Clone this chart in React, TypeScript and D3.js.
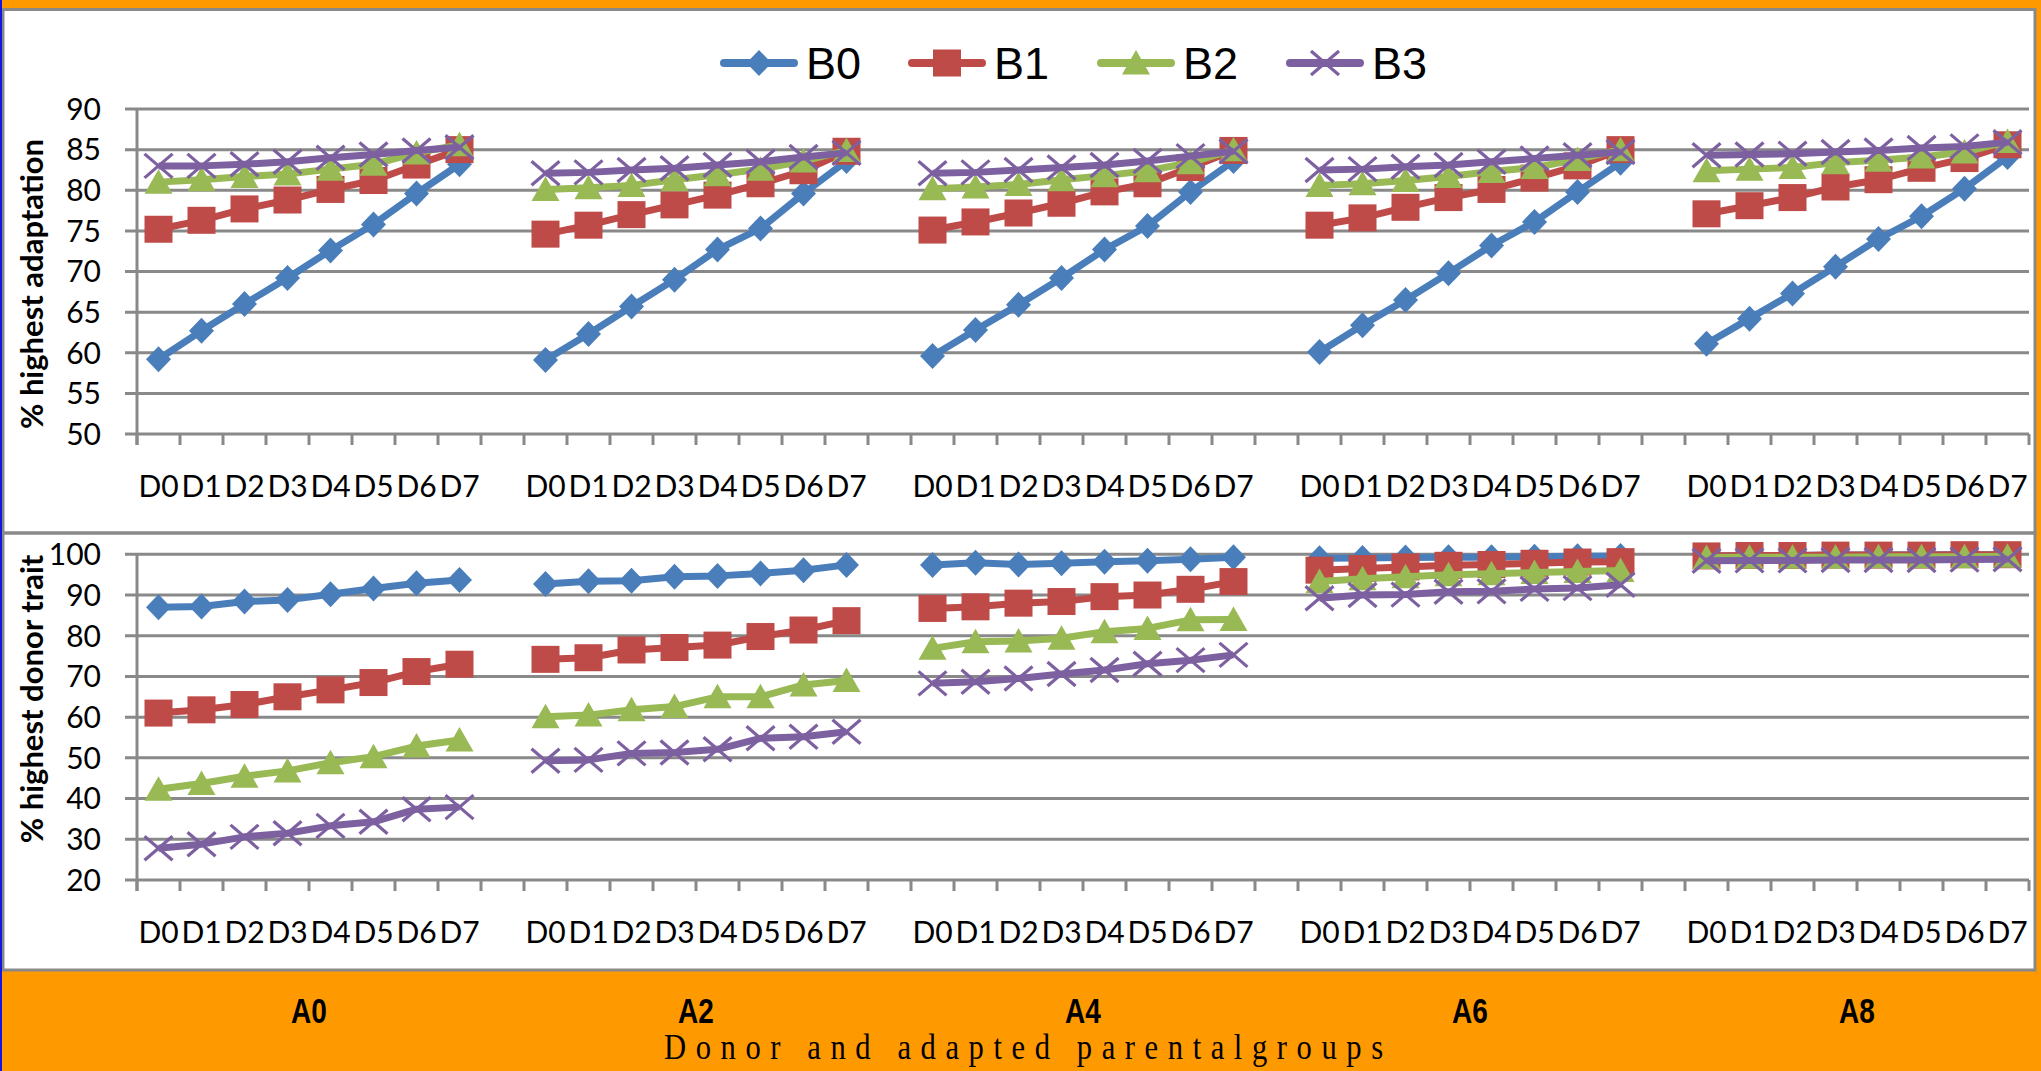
import React from 'react';
import * as d3 from 'd3';

const groups = ['A0', 'A2', 'A4', 'A6', 'A8'];
const days = ['D0', 'D1', 'D2', 'D3', 'D4', 'D5', 'D6', 'D7'];
const seriesNames = ['B0', 'B1', 'B2', 'B3'];
const seriesColors = ['#4a7ebb', '#be4b48', '#98b954', '#7d60a0'];

const adaptTicks = [50, 55, 60, 65, 70, 75, 80, 85, 90];
const donorTicks = [20, 30, 40, 50, 60, 70, 80, 90, 100];

// % highest adaptation, one row per group (A0..A8), D0..D7
const adaptB0 = [
  [59.2, 62.7, 66.0, 69.2, 72.6, 75.8, 79.6, 83.2],
  [59.1, 62.3, 65.7, 69.0, 72.7, 75.3, 79.6, 83.6],
  [59.6, 62.8, 65.9, 69.2, 72.7, 75.6, 79.8, 83.6],
  [60.1, 63.4, 66.5, 69.8, 73.2, 76.1, 79.8, 83.4],
  [61.1, 64.2, 67.3, 70.6, 74.0, 76.8, 80.2, 84.1],
];
const adaptB1 = [
  [75.2, 76.3, 77.7, 78.8, 80.1, 81.2, 83.1, 85.0],
  [74.6, 75.7, 77.0, 78.2, 79.4, 80.8, 82.4, 84.8],
  [75.1, 76.1, 77.2, 78.4, 79.8, 80.8, 82.8, 84.9],
  [75.7, 76.6, 77.9, 79.1, 80.1, 81.5, 83.0, 85.0],
  [77.1, 78.1, 79.1, 80.4, 81.3, 82.7, 83.9, 85.6],
];
const adaptB2 = [
  [81.0, 81.3, 81.7, 82.0, 82.6, 83.2, 84.6, 85.6],
  [80.1, 80.3, 80.6, 81.3, 81.9, 82.6, 83.6, 84.9],
  [80.2, 80.4, 80.7, 81.3, 81.8, 82.4, 83.4, 85.0],
  [80.6, 80.8, 81.2, 81.7, 82.3, 82.8, 83.8, 85.0],
  [82.4, 82.6, 82.8, 83.4, 83.7, 84.1, 84.7, 86.0],
];
const adaptB3 = [
  [83.0, 83.0, 83.2, 83.5, 84.0, 84.4, 84.9, 85.3],
  [82.1, 82.2, 82.5, 82.7, 83.1, 83.5, 84.1, 84.6],
  [82.1, 82.2, 82.5, 82.8, 83.1, 83.6, 84.2, 84.8],
  [82.5, 82.6, 82.9, 83.1, 83.5, 83.9, 84.3, 84.7],
  [84.3, 84.4, 84.5, 84.7, 84.9, 85.2, 85.4, 85.9],
];

// % highest donor trait
const donorB0 = [
  [87.0, 87.2, 88.4, 88.8, 90.2, 91.6, 92.9, 93.7],
  [92.7, 93.4, 93.5, 94.5, 94.7, 95.3, 96.1, 97.4],
  [97.4, 97.9, 97.5, 97.8, 98.2, 98.4, 98.8, 99.3],
  [99.0, 99.1, 99.2, 99.3, 99.3, 99.4, 99.5, 99.6],
  [99.6, 99.7, 99.7, 99.8, 99.8, 99.9, 99.9, 99.9],
];
const donorB1 = [
  [61.0, 61.8, 63.1, 65.0, 66.7, 68.5, 71.2, 73.0],
  [74.2, 74.6, 76.5, 77.1, 77.7, 79.8, 81.4, 83.7],
  [86.7, 87.1, 88.0, 88.4, 89.6, 90.0, 91.4, 93.3],
  [96.1, 96.5, 96.9, 97.3, 97.5, 97.8, 98.1, 98.2],
  [99.6, 99.7, 99.7, 99.8, 99.8, 99.8, 99.9, 99.9],
];
const donorB2 = [
  [42.3, 43.7, 45.5, 46.8, 48.8, 50.3, 52.9, 54.4],
  [60.1, 60.5, 61.8, 62.6, 65.0, 65.0, 67.9, 69.0],
  [76.9, 78.5, 78.7, 79.4, 81.0, 81.8, 83.9, 84.0],
  [93.3, 94.0, 94.5, 95.0, 95.2, 95.5, 95.8, 96.0],
  [99.2, 99.3, 99.3, 99.3, 99.4, 99.4, 99.4, 99.5],
];
const donorB3 = [
  [27.8, 28.8, 30.6, 31.5, 33.3, 34.3, 37.4, 37.9],
  [49.3, 49.5, 51.1, 51.3, 52.1, 54.8, 55.2, 56.4],
  [68.3, 68.7, 69.5, 70.6, 71.6, 73.1, 74.0, 75.3],
  [89.2, 90.0, 90.1, 90.8, 90.9, 91.5, 91.7, 92.5],
  [98.4, 98.5, 98.5, 98.6, 98.6, 98.6, 98.7, 98.8],
];

const adaptSeries = [adaptB0, adaptB1, adaptB2, adaptB3];
const donorSeries = [donorB0, donorB1, donorB2, donorB3];

const W = 2041;
const H = 1071;
const GRID = '#898989';
const FONT = 'Lato, "Open Sans", sans-serif';

// category slots: 8 days per group + one empty slot between groups
const slots: string[] = [];
groups.forEach((g, gi) => {
  days.forEach((d) => slots.push(`${g}-${d}`));
  if (gi < groups.length - 1) slots.push(`gap-${gi}`);
});

const x = d3.scaleBand<string>().domain(slots).range([137, 2029]).paddingInner(0).paddingOuter(0);
const cx = (g: string, d: string) => (x(`${g}-${d}`) as number) + x.bandwidth() / 2;

function Marker({ idx, px, py }: { idx: number; px: number; py: number }) {
  const c = seriesColors[idx];
  if (idx === 0) {
    return <path d={`M${px},${py - 13}L${px + 12.5},${py}L${px},${py + 13}L${px - 12.5},${py}Z`} fill={c} />;
  }
  if (idx === 1) {
    return <rect x={px - 14} y={py - 13.5} width={28} height={27} fill={c} />;
  }
  if (idx === 2) {
    return <path d={`M${px},${py - 13}L${px + 14},${py + 11.5}L${px - 14},${py + 11.5}Z`} fill={c} />;
  }
  return (
    <g stroke={c} strokeWidth={3.2}>
      <line x1={px - 14} y1={py - 12} x2={px + 14} y2={py + 12} />
      <line x1={px - 14} y1={py + 12} x2={px + 14} y2={py - 12} />
    </g>
  );
}

function Panel({
  data,
  domain,
  ticks,
  yTop,
  yBottom,
  labelY,
  title,
  titleY,
}: {
  data: number[][][];
  domain: [number, number];
  ticks: number[];
  yTop: number;
  yBottom: number;
  labelY: number;
  title: string;
  titleY: number;
}) {
  const y = d3.scaleLinear().domain(domain).range([yBottom, yTop]);
  const line = d3
    .line<[number, number]>()
    .x((p) => p[0])
    .y((p) => p[1]);
  const boundaries = d3.range(slots.length + 1).map((i) => 137 + i * x.step());
  return (
    <g>
      {ticks.map((t) => (
        <g key={t}>
          <line x1={125} x2={2029} y1={y(t)} y2={y(t)} stroke={GRID} strokeWidth={3} />
          <text x={101} y={y(t)} dy="0.36em" textAnchor="end" fontFamily={FONT} fontSize={30} fill="#000">
            {t}
          </text>
        </g>
      ))}
      <line x1={137} x2={137} y1={yTop} y2={yBottom + 11} stroke={GRID} strokeWidth={3} />
      {boundaries.map((bx, i) => (
        <line key={i} x1={bx} x2={bx} y1={yBottom} y2={yBottom + 11} stroke={GRID} strokeWidth={3} />
      ))}
      {groups.map((g) =>
        days.map((d) => (
          <text key={g + d} x={cx(g, d)} y={labelY} textAnchor="middle" fontFamily={FONT} fontSize={30} fill="#000">
            {d}
          </text>
        ))
      )}
      <text
        transform={`translate(32,${titleY}) rotate(-90)`}
        textAnchor="middle"
        dy="0.35em"
        fontFamily={FONT}
        fontWeight="bold"
        fontSize={31}
        fill="#000"
      >
        {title}
      </text>
      {data.map((series, si) => (
        <g key={si}>
          {series.map((vals, gi) => {
            const pts: [number, number][] = vals.map((v, di) => [cx(groups[gi], days[di]), y(v)]);
            return (
              <g key={gi}>
                <path d={line(pts) || ''} fill="none" stroke={seriesColors[si]} strokeWidth={7} strokeLinejoin="round" />
                {pts.map((p, di) => (
                  <Marker key={di} idx={si} px={p[0]} py={p[1]} />
                ))}
              </g>
            );
          })}
        </g>
      ))}
    </g>
  );
}

export default function App() {
  const legendX = [720, 908, 1097, 1286];
  const legendY = 63;
  return (
    <svg
      width={W}
      height={H}
      viewBox={`0 0 ${W} ${H}`}
      style={{ position: 'absolute', left: 0, top: 0, display: 'block' }}
    >
      <rect x={0} y={0} width={W} height={H} fill="#ff9900" />
      <rect x={3} y={9} width={2032} height={962} fill="#ffffff" />
      {/* frames */}
      <rect x={3} y={9.5} width={2032} height={523.5} fill="none" stroke={GRID} strokeWidth={3} />
      <rect x={3} y={533} width={2032} height={437} fill="none" stroke={GRID} strokeWidth={3} />
      <rect x={0} y={0} width={2} height={H} fill="#1414e6" />

      {/* legend */}
      {seriesNames.map((n, i) => (
        <g key={n}>
          <line
            x1={legendX[i] + 4}
            x2={legendX[i] + 74}
            y1={legendY}
            y2={legendY}
            stroke={seriesColors[i]}
            strokeWidth={8}
            strokeLinecap="round"
          />
          <Marker idx={i} px={legendX[i] + 39} py={legendY} />
          <text
            x={legendX[i] + 86}
            y={legendY}
            dy="0.36em"
            fontFamily='"Liberation Sans", Arial, sans-serif'
            fontSize={45}
            fill="#000"
          >
            {n}
          </text>
        </g>
      ))}

      <Panel
        data={adaptSeries}
        domain={[50, 90]}
        ticks={adaptTicks}
        yTop={109}
        yBottom={434}
        labelY={497}
        title="% highest adaptation"
        titleY={284}
      />
      <Panel
        data={donorSeries}
        domain={[20, 100]}
        ticks={donorTicks}
        yTop={554.3}
        yBottom={880}
        labelY={943}
        title="% highest donor trait"
        titleY={699}
      />

      {/* group labels */}
      {groups.map((g) => {
        const gx = (cx(g, 'D0') + cx(g, 'D7')) / 2;
        return (
          <text
            key={g}
            transform={`translate(${gx},1023) scale(0.8,1)`}
            textAnchor="middle"
            fontFamily='"Liberation Sans", Arial, sans-serif'
            fontWeight="bold"
            fontSize={35}
            fill="#000"
          >
            {g}
          </text>
        );
      })}
      <g transform="translate(664,1059) scale(0.85,1)">
        <text
          x={0}
          y={0}
          fontFamily='"Liberation Serif", "Times New Roman", serif'
          fontSize={36}
          textLength={846}
          lengthAdjust="spacing"
          fill="#000"
        >
          Donor and adapted parentalgroups
        </text>
      </g>
    </svg>
  );
}
